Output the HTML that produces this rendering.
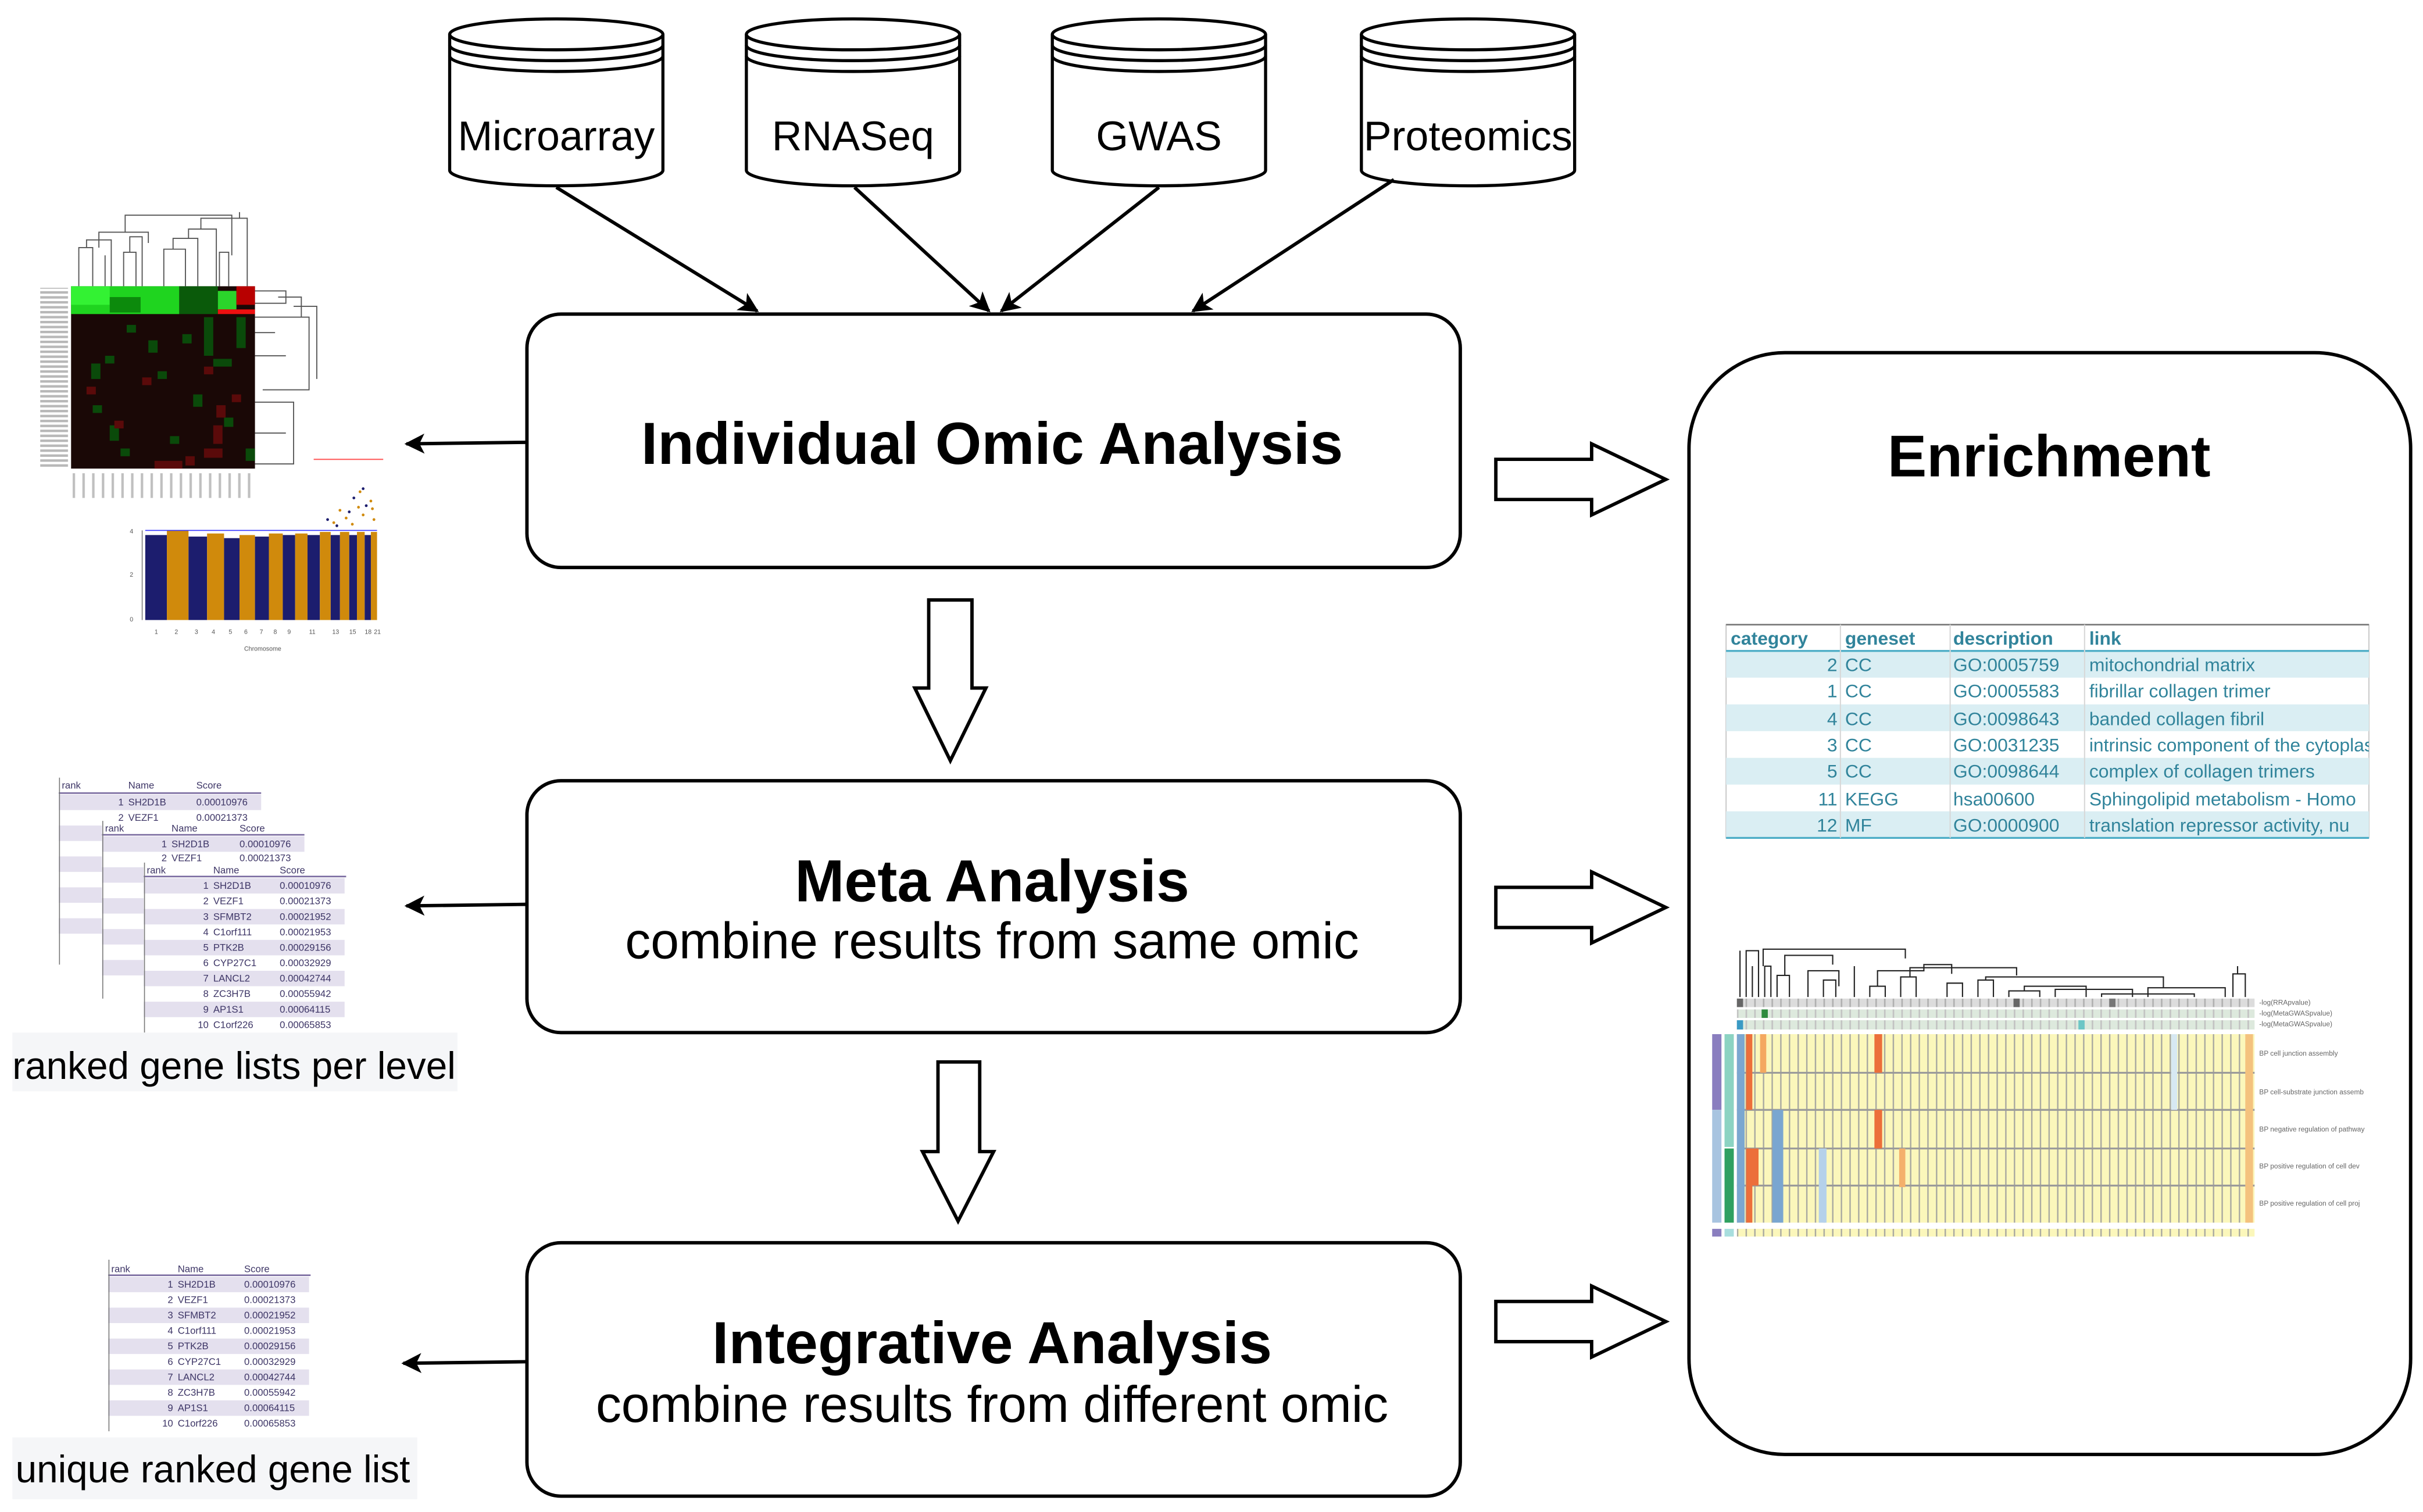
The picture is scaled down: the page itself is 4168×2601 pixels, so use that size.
<!DOCTYPE html>
<html><head><meta charset="utf-8"><style>
html,body{margin:0;padding:0;background:#fff;}
svg{display:block;}
text{font-family:"Liberation Sans",Arial,sans-serif;}
</style></head><body>
<svg width="4168" height="2601" viewBox="0 0 1568 978" xmlns="http://www.w3.org/2000/svg">
<defs>
<marker id="ah" viewBox="0 0 20 20" refX="18" refY="10" markerWidth="13" markerHeight="13" markerUnits="userSpaceOnUse" orient="auto">
<path d="M0,0 L20,10 L0,20 L5,10 Z" fill="#000"/>
</marker>
<pattern id="ycol" width="5.6" height="30" patternUnits="userSpaceOnUse" x="1124">
<rect width="5.6" height="30" fill="#fbf7bb"/><rect width="0.9" height="30" fill="#a8a8a0"/>
</pattern>
<pattern id="gcol" width="5.6" height="10" patternUnits="userSpaceOnUse" x="1124">
<rect width="5.6" height="10" fill="#dde9dd"/><rect width="1" height="10" fill="#c2c2c2"/>
</pattern>
<pattern id="grcol" width="5.6" height="10" patternUnits="userSpaceOnUse" x="1124">
<rect width="5.6" height="10" fill="#dcdcdc"/><rect width="1" height="10" fill="#b0b0b0"/>
</pattern>
<pattern id="rlab" width="20" height="3.2" patternUnits="userSpaceOnUse" x="26" y="185">
<rect width="18" height="1.6" fill="#b8b8b8"/>
</pattern>
<pattern id="clab" width="6.3" height="20" patternUnits="userSpaceOnUse" x="47" y="306">
<rect width="1.6" height="16" fill="#c0c0c0"/>
</pattern>
</defs>

<!-- Cylinders -->
<g fill="#fff" stroke="#000" stroke-width="2">
<g transform="translate(291,0)">
<path d="M0,22 L0,110 A69,10 0 0 0 138,110 L138,22"/>
<ellipse cx="69" cy="22" rx="69" ry="10"/>
<path d="M0,29 A69,10 0 0 0 138,29" fill="none"/><path d="M0,36 A69,10 0 0 0 138,36" fill="none"/>
</g>
<g transform="translate(483,0)">
<path d="M0,22 L0,110 A69,10 0 0 0 138,110 L138,22"/>
<ellipse cx="69" cy="22" rx="69" ry="10"/>
<path d="M0,29 A69,10 0 0 0 138,29" fill="none"/><path d="M0,36 A69,10 0 0 0 138,36" fill="none"/>
</g>
<g transform="translate(681,0)">
<path d="M0,22 L0,110 A69,10 0 0 0 138,110 L138,22"/>
<ellipse cx="69" cy="22" rx="69" ry="10"/>
<path d="M0,29 A69,10 0 0 0 138,29" fill="none"/><path d="M0,36 A69,10 0 0 0 138,36" fill="none"/>
</g>
<g transform="translate(881,0)">
<path d="M0,22 L0,110 A69,10 0 0 0 138,110 L138,22"/>
<ellipse cx="69" cy="22" rx="69" ry="10"/>
<path d="M0,29 A69,10 0 0 0 138,29" fill="none"/><path d="M0,36 A69,10 0 0 0 138,36" fill="none"/>
</g>
</g>
<g font-size="27" text-anchor="middle" fill="#000">
<text x="360" y="97">Microarray</text>
<text x="552" y="97">RNASeq</text>
<text x="750" y="97">GWAS</text>
<text x="950" y="97">Proteomics</text>
</g>

<!-- connector arrows -->
<g stroke="#000" stroke-width="2.2" fill="none" marker-end="url(#ah)">
<line x1="360" y1="121" x2="490" y2="201"/>
<line x1="553" y1="121" x2="640" y2="201"/>
<line x1="750" y1="121" x2="648" y2="201"/>
<line x1="902" y1="116" x2="772" y2="201"/>
<line x1="340" y1="286" x2="263" y2="287"/>
<line x1="340" y1="585" x2="263" y2="586"/>
<line x1="340" y1="881" x2="261" y2="882"/>
</g>

<!-- Main boxes -->
<g fill="#fff" stroke="#000" stroke-width="2.2">
<rect x="341" y="203" width="604" height="164" rx="22"/>
<rect x="341" y="505" width="604" height="163" rx="22"/>
<rect x="341" y="804" width="604" height="164" rx="22"/>
<rect x="1093" y="228" width="467" height="713" rx="62"/>
</g>
<g text-anchor="middle" fill="#000">
<text x="642" y="300" font-size="38.5" font-weight="bold">Individual Omic Analysis</text>
<text x="642" y="583" font-size="38.5" font-weight="bold">Meta Analysis</text>
<text x="642" y="620" font-size="33">combine results from same omic</text>
<text x="642" y="882" font-size="38.5" font-weight="bold">Integrative Analysis</text>
<text x="642" y="920" font-size="33">combine results from different omic</text>
<text x="1326" y="308" font-size="38" font-weight="bold">Enrichment</text>
</g>

<!-- hollow arrows -->
<g fill="#fff" stroke="#000" stroke-width="2.2" stroke-linejoin="miter">
<polygon points="601,388 629,388 629,445 638,445 615,492 592,445 601,445"/>
<polygon points="607,687 634,687 634,745 643,745 620,790 597,745 607,745"/>
<polygon points="968,297 1030,297 1030,287 1078,310 1030,333 1030,323 968,323"/>
<polygon points="968,574 1030,574 1030,564 1078,587 1030,610 1030,600 968,600"/>
<polygon points="968,842 1030,842 1030,832 1078,855 1030,878 1030,868 968,868"/>
</g>

<!-- Enrichment table -->
<g font-size="12" fill="#31849b">
<rect x="1117" y="404" width="416" height="138" fill="#fff" stroke="#ccc" stroke-width="0.8"/>
<line x1="1117" y1="404" x2="1533" y2="404" stroke="#777" stroke-width="1"/>
<rect x="1117" y="421" width="416" height="17.3" fill="#daeef3"/>
<rect x="1117" y="455.6" width="416" height="17.3" fill="#daeef3"/>
<rect x="1117" y="490.2" width="416" height="17.3" fill="#daeef3"/>
<rect x="1117" y="524.8" width="416" height="17.3" fill="#daeef3"/>
<line x1="1117" y1="421" x2="1533" y2="421" stroke="#4bacc6" stroke-width="1.2"/>
<line x1="1117" y1="542" x2="1533" y2="542" stroke="#4bacc6" stroke-width="1.2"/>
<g stroke="#d8d8d8" stroke-width="0.8"><line x1="1191" y1="404" x2="1191" y2="542"/><line x1="1262" y1="404" x2="1262" y2="542"/><line x1="1349" y1="404" x2="1349" y2="542"/></g>
<g font-weight="bold"><text x="1120" y="417">category</text><text x="1194" y="417">geneset</text><text x="1264" y="417">description</text><text x="1352" y="417">link</text></g>
<g text-anchor="end"><text x="1189" y="434">2</text><text x="1189" y="451">1</text><text x="1189" y="469">4</text><text x="1189" y="486">3</text><text x="1189" y="503">5</text><text x="1189" y="521">11</text><text x="1189" y="538">12</text></g>
<text x="1194" y="434">CC</text><text x="1194" y="451">CC</text><text x="1194" y="469">CC</text><text x="1194" y="486">CC</text><text x="1194" y="503">CC</text><text x="1194" y="521">KEGG</text><text x="1194" y="538">MF</text>
<text x="1264" y="434">GO:0005759</text><text x="1264" y="451">GO:0005583</text><text x="1264" y="469">GO:0098643</text><text x="1264" y="486">GO:0031235</text><text x="1264" y="503">GO:0098644</text><text x="1264" y="521">hsa00600</text><text x="1264" y="538">GO:0000900</text>
<svg x="1349" y="421" width="184" height="121" overflow="hidden">
<text x="3" y="13">mitochondrial matrix</text><text x="3" y="30">fibrillar collagen trimer</text><text x="3" y="48">banded collagen fibril</text><text x="3" y="65">intrinsic component of the cytoplasm</text><text x="3" y="82">complex of collagen trimers</text><text x="3" y="100">Sphingolipid metabolism - Homo</text><text x="3" y="117">translation repressor activity, nu</text>
</svg>
</g>

<!-- Right heatmap -->
<g>
<g stroke="#222" stroke-width="0.8" fill="none">
<path d="M1126,645 V615 M1130,645 V615 H1138 V645 M1134,645 V625 M1142,645 V625 H1146 V645 M1141,625 V614 H1233 V620 M1150,645 V631 H1158 V645 M1155,631 V618 H1186 V624 M1170,645 V628 H1190 V638 M1180,645 V634 H1188 V645 M1200,645 V625 M1210,645 V638 H1220 V645 M1215,638 V628 H1245 V624 H1263 V630 M1230,645 V632 H1240 V645 M1236,632 V626 H1305 V631 M1260,645 V636 H1270 V645 M1280,645 V634 H1290 V645 M1285,634 V632 H1400 V639 M1300,645 V641 H1320 V645 M1310,641 V638 H1350 V645 M1330,645 V640 H1380 V645 M1360,645 V643 H1420 V645 M1390,645 V639 H1440 V645 M1445,645 V630 H1453 V645 M1448,630 V625"/>
</g>
<rect x="1124" y="646" width="335" height="5.5" fill="url(#grcol)"/>
<rect x="1124" y="653" width="335" height="5.5" fill="url(#gcol)"/>
<rect x="1124" y="660" width="335" height="6" fill="url(#gcol)"/>
<rect x="1124" y="646" width="4" height="5.5" fill="#666"/><rect x="1303" y="646" width="4" height="5.5" fill="#666"/><rect x="1365" y="646" width="4" height="5.5" fill="#777"/>
<rect x="1140" y="653" width="4" height="5.5" fill="#2e8b3e"/><rect x="1124" y="660" width="4" height="6" fill="#3a9ac4"/><rect x="1345" y="660" width="4" height="6" fill="#6cc6c6"/>
<rect x="1124" y="669" width="335" height="122" fill="url(#ycol)"/>
<g stroke="#9a9a9a" stroke-width="1.2"><line x1="1124" y1="694" x2="1459" y2="694"/><line x1="1124" y1="718" x2="1459" y2="718"/><line x1="1124" y1="743" x2="1459" y2="743"/><line x1="1124" y1="767" x2="1459" y2="767"/></g>
<rect x="1124" y="669" width="5" height="122" fill="#7ba7d0"/>
<rect x="1130" y="669" width="4" height="49" fill="#ec6f3a"/>
<rect x="1130" y="743" width="8" height="24" fill="#ec6f3a"/>
<rect x="1130" y="767" width="4" height="24" fill="#ec6f3a"/>
<rect x="1147" y="718" width="7" height="73" fill="#7aa6d0"/>
<rect x="1139" y="669" width="4" height="25" fill="#f4a860"/>
<rect x="1213" y="669" width="5" height="25" fill="#ec6f3a"/><rect x="1213" y="718" width="5" height="25" fill="#ec6f3a"/>
<rect x="1177" y="743" width="5" height="48" fill="#b5d1ea"/>
<rect x="1229" y="743" width="4" height="25" fill="#f4b06c"/>
<rect x="1405" y="669" width="4" height="49" fill="#d7e8f2"/>
<rect x="1453" y="669" width="5" height="122" fill="#f4c27e"/>
<rect x="1108" y="669" width="6" height="49" fill="#8a7ebf"/><rect x="1108" y="718" width="6" height="73" fill="#a8c4e0"/>
<rect x="1116" y="669" width="6" height="73" fill="#8cd3c2"/><rect x="1116" y="743" width="6" height="48" fill="#2fa060"/>
<rect x="1124" y="795" width="335" height="5" fill="url(#ycol)"/>
<rect x="1108" y="795" width="6" height="5" fill="#8a7ebf"/><rect x="1116" y="795" width="6" height="5" fill="#a8dede"/>
<g font-size="4.5" fill="#666"><text x="1462" y="650">-log(RRApvalue)</text><text x="1462" y="657">-log(MetaGWASpvalue)</text><text x="1462" y="664">-log(MetaGWASpvalue)</text>
<text x="1462" y="683">BP cell junction assembly</text><text x="1462" y="708">BP cell-substrate junction assemb</text><text x="1462" y="732">BP negative regulation of pathway</text><text x="1462" y="756">BP positive regulation of cell dev</text><text x="1462" y="780">BP positive regulation of cell proj</text></g>
</g>

<!-- Left heatmap -->
<g>
<g stroke="#555" stroke-width="0.7" fill="none">
<path d="M51,185 V160 H60 V185 M56,160 V155 H72 V185 M64,160 V150 H96 V157 M68,185 V165 M80,185 V163 H88 V185 M84,163 V153 H92 V185 M81,150 V139 H150 V150 M106,185 V161 H120 V185 M112,161 V154 H128 V185 M122,154 V148 H140 V185 M130,148 V141 H150 V165 M142,185 V163 H148 V185 M150,141 H160 V185 M155,141 V137"/>
<path d="M165,188 H185 V196 H165 M180,192 H195 V205 M165,205 H200 V252 H170 M190,198 H205 V245 M165,215 H178 M165,230 H185 M165,260 H190 V300 H165 M165,280 H185"/>
</g>
<rect x="46" y="185" width="119" height="118" fill="#1a0806"/>
<rect x="46" y="185" width="70" height="18" fill="#1fd41f"/>
<rect x="46" y="185" width="25" height="12" fill="#33f233"/>
<rect x="71" y="192" width="20" height="10" fill="#0c8a0c"/>
<rect x="116" y="185" width="25" height="18" fill="#0a5a0a"/>
<rect x="141" y="188" width="12" height="12" fill="#2bd42b"/>
<rect x="153" y="185" width="12" height="12" fill="#b80000"/>
<rect x="141" y="200" width="24" height="3" fill="#ee1010"/>
<g fill="#0a4a0a"><rect x="82" y="210" width="6" height="5"/><rect x="96" y="220" width="6" height="8"/><rect x="118" y="216" width="6" height="6"/><rect x="138" y="232" width="12" height="5"/><rect x="60" y="262" width="6" height="5"/><rect x="102" y="240" width="6" height="5"/><rect x="125" y="255" width="6" height="8"/><rect x="145" y="270" width="6" height="6"/><rect x="78" y="290" width="6" height="5"/><rect x="159" y="290" width="6" height="8"/><rect x="68" y="230" width="6" height="5"/><rect x="110" y="282" width="6" height="5"/><rect x="153" y="205" width="6" height="20"/><rect x="132" y="205" width="6" height="25"/><rect x="71" y="275" width="6" height="10"/><rect x="59" y="235" width="6" height="10"/></g>
<g fill="#5a0a0a"><rect x="92" y="244" width="6" height="5"/><rect x="132" y="237" width="6" height="5"/><rect x="140" y="262" width="6" height="8"/><rect x="132" y="290" width="12" height="6"/><rect x="74" y="272" width="6" height="5"/><rect x="150" y="255" width="6" height="5"/><rect x="56" y="250" width="6" height="5"/><rect x="120" y="295" width="6" height="6"/><rect x="138" y="275" width="6" height="12"/><rect x="100" y="298" width="18" height="5"/></g>
<rect x="26" y="186" width="19" height="116" fill="url(#rlab)"/>
<rect x="47" y="306" width="118" height="18" fill="url(#clab)"/>
<line x1="203" y1="297" x2="248" y2="297" stroke="#ff6060" stroke-width="0.8"/>
</g>

<!-- Manhattan -->
<g>
<rect x="94" y="346" width="14" height="55" fill="#1c1d6e"/>
<rect x="108" y="343" width="14" height="58" fill="#d08a0c"/>
<rect x="122" y="347" width="12" height="54" fill="#1c1d6e"/>
<rect x="134" y="345" width="11" height="56" fill="#d08a0c"/>
<rect x="145" y="348" width="10" height="53" fill="#1c1d6e"/>
<rect x="155" y="346" width="10" height="55" fill="#d08a0c"/>
<rect x="165" y="347" width="9" height="54" fill="#1c1d6e"/>
<rect x="174" y="345" width="9" height="56" fill="#d08a0c"/>
<rect x="183" y="346" width="8" height="55" fill="#1c1d6e"/>
<rect x="191" y="345" width="8" height="56" fill="#d08a0c"/>
<rect x="199" y="346" width="8" height="55" fill="#1c1d6e"/>
<rect x="207" y="344" width="7" height="57" fill="#d08a0c"/>
<rect x="214" y="346" width="6" height="55" fill="#1c1d6e"/>
<rect x="220" y="344" width="6" height="57" fill="#d08a0c"/>
<rect x="226" y="346" width="5" height="55" fill="#1c1d6e"/>
<rect x="231" y="344" width="5" height="57" fill="#d08a0c"/>
<rect x="236" y="346" width="4" height="55" fill="#1c1d6e"/>
<rect x="240" y="344" width="4" height="57" fill="#d08a0c"/>
<line x1="94" y1="343" x2="244" y2="343" stroke="#3333ff" stroke-width="0.6"/>
<g fill="#d08a0c"><circle cx="224" cy="335" r="0.9"/><circle cx="232" cy="328" r="0.9"/><circle cx="216" cy="338" r="0.9"/><circle cx="240" cy="324" r="0.9"/><circle cx="235" cy="333" r="0.9"/><circle cx="220" cy="330" r="0.9"/><circle cx="228" cy="339" r="0.9"/><circle cx="242" cy="336" r="0.9"/><circle cx="233" cy="318" r="0.9"/><circle cx="241" cy="329" r="0.9"/></g>
<g fill="#1c1d6e"><circle cx="229" cy="322" r="0.9"/><circle cx="212" cy="336" r="0.9"/><circle cx="237" cy="327" r="0.9"/><circle cx="226" cy="331" r="0.9"/><circle cx="235" cy="316" r="0.9"/><circle cx="218" cy="340" r="0.9"/></g>
<line x1="92" y1="343" x2="92" y2="401" stroke="#666" stroke-width="0.5"/>
<g font-size="4" fill="#555"><text x="84" y="345">4</text><text x="84" y="373">2</text><text x="84" y="402">0</text>
<text x="100" y="410">1</text><text x="113" y="410">2</text><text x="126" y="410">3</text><text x="137" y="410">4</text><text x="148" y="410">5</text><text x="158" y="410">6</text><text x="168" y="410">7</text><text x="177" y="410">8</text><text x="186" y="410">9</text><text x="200" y="410">11</text><text x="215" y="410">13</text><text x="226" y="410">15</text><text x="236" y="410">18</text><text x="242" y="410">21</text>
<text x="158" y="421">Chromosome</text></g>
</g>

<!-- Ranked gene lists stacked -->
<g font-size="6.3" fill="#3d3566">
<g>
<rect x="38" y="503" width="131" height="120" fill="#fff"/>
<rect x="38" y="514" width="131" height="10" fill="#e4e0ee"/>
<g fill="#e4e0ee"><rect x="38" y="534" width="28" height="10"/><rect x="38" y="554" width="28" height="10"/><rect x="38" y="574" width="28" height="10"/><rect x="38" y="594" width="28" height="10"/></g>
<line x1="38" y1="513" x2="169" y2="513" stroke="#7a6ba0" stroke-width="1"/>
<line x1="38.5" y1="503" x2="38.5" y2="624" stroke="#777" stroke-width="0.6"/>
<text x="40" y="510">rank</text><text x="83" y="510">Name</text><text x="127" y="510">Score</text>
<text x="80" y="521" text-anchor="end">1</text><text x="83" y="521">SH2D1B</text><text x="127" y="521">0.00010976</text>
<text x="80" y="531" text-anchor="end">2</text><text x="83" y="531">VEZF1</text><text x="127" y="531">0.00021373</text>
</g>
<g>
<rect x="66" y="531" width="131" height="115" fill="#fff"/>
<rect x="66" y="541" width="131" height="10" fill="#e4e0ee"/>
<g fill="#e4e0ee"><rect x="66" y="561" width="27" height="10"/><rect x="66" y="581" width="27" height="10"/><rect x="66" y="601" width="27" height="10"/><rect x="66" y="621" width="27" height="10"/></g>
<line x1="66" y1="540" x2="197" y2="540" stroke="#7a6ba0" stroke-width="1"/>
<line x1="66.5" y1="531" x2="66.5" y2="646" stroke="#777" stroke-width="0.6"/>
<text x="68" y="538">rank</text><text x="111" y="538">Name</text><text x="155" y="538">Score</text>
<text x="108" y="548" text-anchor="end">1</text><text x="111" y="548">SH2D1B</text><text x="155" y="548">0.00010976</text>
<text x="108" y="557" text-anchor="end">2</text><text x="111" y="557">VEZF1</text><text x="155" y="557">0.00021373</text>
</g>
<g>
<rect x="93" y="558" width="131" height="110" fill="#fff"/>
<g fill="#e4e0ee"><rect x="93" y="568" width="130" height="10"/><rect x="93" y="588" width="130" height="10"/><rect x="93" y="608" width="130" height="10"/><rect x="93" y="628" width="130" height="10"/><rect x="93" y="648" width="130" height="10"/></g>
<line x1="93" y1="567" x2="224" y2="567" stroke="#7a6ba0" stroke-width="1"/>
<line x1="93.5" y1="558" x2="93.5" y2="668" stroke="#777" stroke-width="0.6"/>
<text x="95" y="565">rank</text><text x="138" y="565">Name</text><text x="181" y="565">Score</text>
<g text-anchor="end"><text x="135" y="575">1</text><text x="135" y="585">2</text><text x="135" y="595">3</text><text x="135" y="605">4</text><text x="135" y="615">5</text><text x="135" y="625">6</text><text x="135" y="635">7</text><text x="135" y="645">8</text><text x="135" y="655">9</text><text x="135" y="665">10</text></g>
<text x="138" y="575">SH2D1B</text><text x="138" y="585">VEZF1</text><text x="138" y="595">SFMBT2</text><text x="138" y="605">C1orf111</text><text x="138" y="615">PTK2B</text><text x="138" y="625">CYP27C1</text><text x="138" y="635">LANCL2</text><text x="138" y="645">ZC3H7B</text><text x="138" y="655">AP1S1</text><text x="138" y="665">C1orf226</text>
<text x="181" y="575">0.00010976</text><text x="181" y="585">0.00021373</text><text x="181" y="595">0.00021952</text><text x="181" y="605">0.00021953</text><text x="181" y="615">0.00029156</text><text x="181" y="625">0.00032929</text><text x="181" y="635">0.00042744</text><text x="181" y="645">0.00055942</text><text x="181" y="655">0.00064115</text><text x="181" y="665">0.00065853</text>
</g>
</g>
<rect x="8" y="668" width="288" height="38" fill="#f5f6f8"/>
<text x="8" y="698" font-size="24.7" fill="#000">ranked gene lists per level</text>

<!-- unique list -->
<g font-size="6.3" fill="#3d3566">
<rect x="70" y="815" width="131" height="111" fill="#fff"/>
<g fill="#e4e0ee"><rect x="70" y="826" width="130" height="10"/><rect x="70" y="846" width="130" height="10"/><rect x="70" y="866" width="130" height="10"/><rect x="70" y="886" width="130" height="10"/><rect x="70" y="906" width="130" height="10"/></g>
<line x1="70" y1="825" x2="201" y2="825" stroke="#7a6ba0" stroke-width="1"/>
<line x1="70.5" y1="815" x2="70.5" y2="926" stroke="#777" stroke-width="0.6"/>
<text x="72" y="823">rank</text><text x="115" y="823">Name</text><text x="158" y="823">Score</text>
<g text-anchor="end"><text x="112" y="833">1</text><text x="112" y="843">2</text><text x="112" y="853">3</text><text x="112" y="863">4</text><text x="112" y="873">5</text><text x="112" y="883">6</text><text x="112" y="893">7</text><text x="112" y="903">8</text><text x="112" y="913">9</text><text x="112" y="923">10</text></g>
<text x="115" y="833">SH2D1B</text><text x="115" y="843">VEZF1</text><text x="115" y="853">SFMBT2</text><text x="115" y="863">C1orf111</text><text x="115" y="873">PTK2B</text><text x="115" y="883">CYP27C1</text><text x="115" y="893">LANCL2</text><text x="115" y="903">ZC3H7B</text><text x="115" y="913">AP1S1</text><text x="115" y="923">C1orf226</text>
<text x="158" y="833">0.00010976</text><text x="158" y="843">0.00021373</text><text x="158" y="853">0.00021952</text><text x="158" y="863">0.00021953</text><text x="158" y="873">0.00029156</text><text x="158" y="883">0.00032929</text><text x="158" y="893">0.00042744</text><text x="158" y="903">0.00055942</text><text x="158" y="913">0.00064115</text><text x="158" y="923">0.00065853</text>
</g>
<rect x="8" y="930" width="262" height="40" fill="#f5f6f8"/>
<text x="10" y="959" font-size="24.7" fill="#000">unique ranked gene list</text>
</svg>
</body></html>
